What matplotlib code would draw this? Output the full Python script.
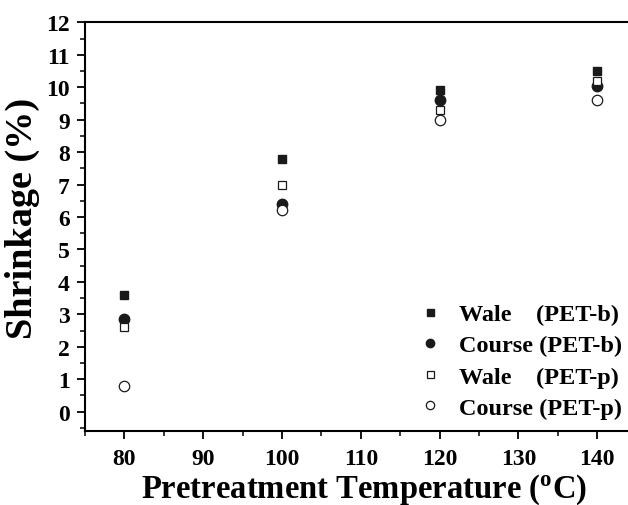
import matplotlib
matplotlib.use('Agg')
import matplotlib.pyplot as plt
from matplotlib.ticker import MultipleLocator

# data
temperature = [80, 100, 120, 140]
wale_b = [3.6, 7.8, 9.9, 10.5]
course_b = [2.85, 6.4, 9.6, 10.05]
wale_p = [2.6, 7.0, 9.3, 10.2]
course_p = [0.8, 6.2, 9.0, 9.6]

labels = ['Wale    (PET-b)', 'Course (PET-b)', 'Wale    (PET-p)', 'Course (PET-p)']

plt.rcParams['font.family'] = ['Liberation Serif', 'DejaVu Serif']
plt.rcParams['font.weight'] = 'bold'

fig = plt.figure(figsize=(6.28, 5.06), dpi=100)
ax = fig.add_axes([0.1354, 0.146, 0.8658, 0.808])

ink = '#1a1a1a'
ax.plot(temperature, wale_b, 's', ms=6.3, color=ink, mec=ink, label=labels[0])
ax.plot(temperature, course_b, 'o', ms=7.5, color=ink, mec=ink, label=labels[1])
ax.plot(temperature, wale_p, 's', ms=6.3, mfc='white', mec=ink, mew=0.9, label=labels[2])
ax.plot(temperature, course_p, 'o', ms=7.5, mfc='white', mec=ink, mew=0.9, label=labels[3])

ax.set_xlim(75, 144)
ax.set_ylim(-0.6, 12)
ax.xaxis.set_major_locator(MultipleLocator(10))
ax.xaxis.set_minor_locator(MultipleLocator(5))
ax.yaxis.set_major_locator(MultipleLocator(1))
ax.yaxis.set_minor_locator(MultipleLocator(0.5))
ax.tick_params(which='major', direction='out', length=6, width=1.3, labelsize=17)
ax.tick_params(which='minor', direction='out', length=3.5, width=1.1)
ax.tick_params(axis='x', pad=6)
ax.tick_params(axis='y', pad=5)
for side in ['left', 'bottom', 'top']:
    ax.spines[side].set_linewidth(1.5)
ax.spines['right'].set_visible(False)

ax.set_xlabel('Pretreatment Temperature ($\\mathregular{^o}$C)', fontsize=23.5, fontweight='bold')
ax.set_ylabel('Shrinkage (%)', fontsize=27.5, fontweight='bold')
ax.xaxis.set_label_coords(0.513, -0.099)
ax.yaxis.set_label_coords(-0.083, 0.523)

ax.legend(loc='lower right', frameon=False, fontsize=17.5, handletextpad=0.5,
          handlelength=1.4, labelspacing=0.38, borderaxespad=0.0, borderpad=0.3,
          markerscale=0.8, bbox_to_anchor=(1.001, 0.012))

fig.savefig('out.png', dpi=100)
